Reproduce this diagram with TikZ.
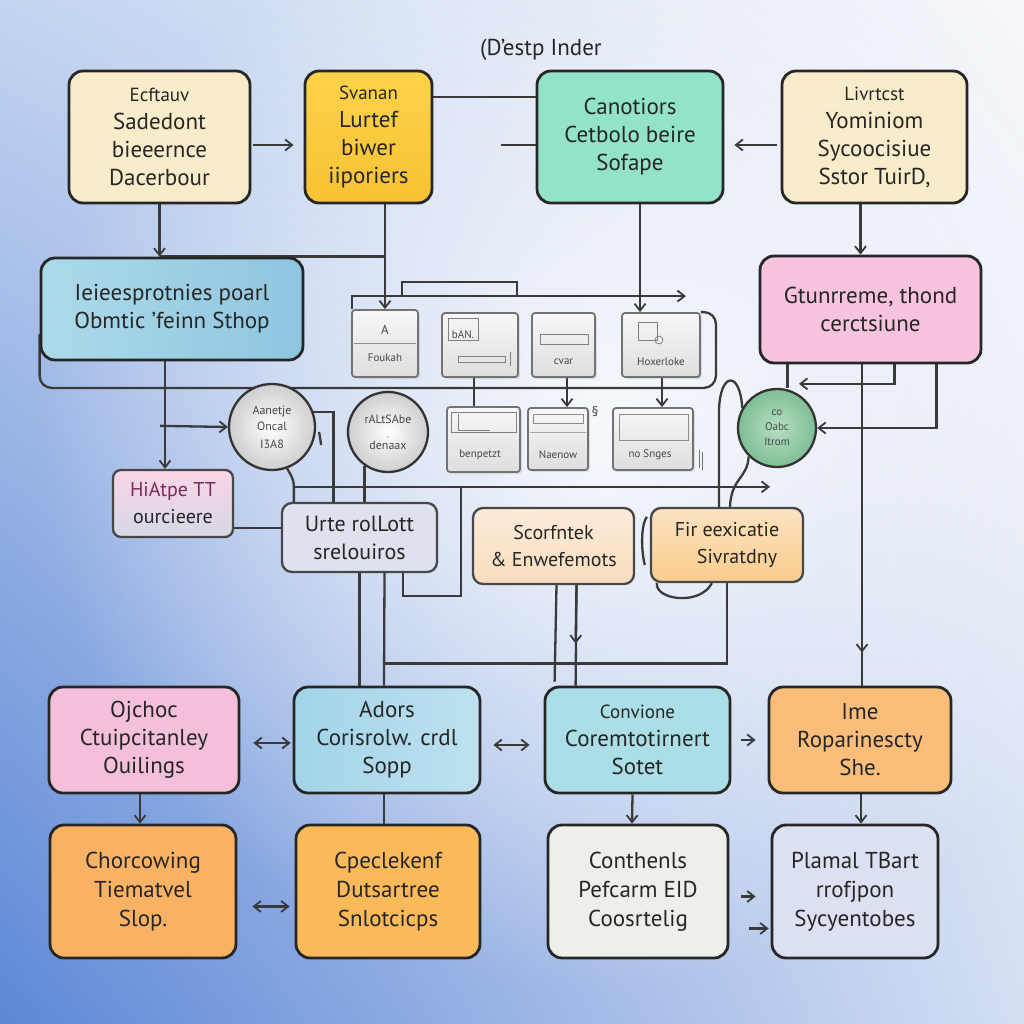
\documentclass[tikz,border=0pt]{standalone}
\usepackage{fontspec}
\setmainfont{PT Sans}
\usetikzlibrary{arrows.meta,calc,fadings,shadows,shadings}
\pgfdeclarelayer{bglay}
\pgfdeclarelayer{connlay}
\pgfsetlayers{bglay,connlay,main}
\definecolor{ln}{HTML}{3A3A3A}
\definecolor{tx}{HTML}{262626}
\definecolor{bgUL}{HTML}{C3D4F0}
\definecolor{bgUR}{HTML}{F6F7FA}
\definecolor{bgLL}{HTML}{5D87D6}
\definecolor{bgLR}{HTML}{D4DFF3}
\definecolor{cream}{HTML}{F8ECCB}
\definecolor{yelA}{HTML}{FCD24A}
\definecolor{yelB}{HTML}{F8C233}
\definecolor{mint}{HTML}{93E3C6}
\definecolor{blueA}{HTML}{ADDAEA}
\definecolor{blueB}{HTML}{8EC5DF}
\definecolor{pinkF}{HTML}{F7C3DD}
\definecolor{pinkK}{HTML}{F4BFD8}
\definecolor{lav}{HTML}{DEE2EF}
\definecolor{peachA}{HTML}{FCEBDA}
\definecolor{peachB}{HTML}{F8DDBE}
\definecolor{orgA}{HTML}{FCE3C2}
\definecolor{orgB}{HTML}{F9CC8C}
\definecolor{tealK}{HTML}{A2D4E8}
\definecolor{tealL}{HTML}{ABDEE6}
\definecolor{orgM}{HTML}{FBBE7A}
\definecolor{orgN}{HTML}{F9B264}
\definecolor{grayN}{HTML}{EDEFEA}
\definecolor{lavN}{HTML}{DCE0F3}
\definecolor{grnA}{HTML}{B7DEC3}
\definecolor{grnB}{HTML}{7FBE95}
\definecolor{pinkT}{HTML}{7A2A5A}
\tikzfading[name=softglow, inner color=transparent!0, outer color=transparent!100]
\tikzset{
  x=1pt, y=-1pt,
  box/.style={draw=black!85, line width=2.8pt, rounded corners=14pt, align=center,
    inner sep=0pt, text=tx, font=\fontsize{23}{28}\selectfont},
  sbox/.style={draw=black!72, line width=2.3pt, rounded corners=10pt, align=center,
    inner sep=0pt, text=tx, font=\fontsize{22}{28}\selectfont},
  gbox/.style={draw=black!55, line width=1.8pt, rounded corners=3pt, top color=gray!6,
    bottom color=gray!26, inner sep=0pt,
    drop shadow={opacity=0.2, shadow xshift=2pt, shadow yshift=-2pt}},
  gtxt/.style={text=black!72, font=\fontsize{11}{12}\selectfont, inner sep=0pt},
  circ/.style={circle, draw=black!80, line width=2.3pt, inner sep=0pt, align=center,
    text=black!72, font=\fontsize{12}{16}\selectfont},
  wire/.style={draw=ln, line width=2.3pt},
  arr/.style={wire, -{Straight Barb[length=7pt,width=11pt,line width=1.8pt]}},
  darr/.style={wire, {Straight Barb[length=7pt,width=11pt,line width=1.8pt]}-{Straight Barb[length=7pt,width=11pt,line width=1.8pt]}},
}
\newcommand{\sm}[1]{{\fontsize{19}{22}\selectfont #1}}
\begin{document}
\begin{tikzpicture}
\useasboundingbox (0,0) rectangle (1024,1024);
% background
\begin{pgfonlayer}{bglay}
\shade[upper left=bgUL, upper right=bgUR, lower left=bgLL, lower right=bgLR] (0,0) rectangle (1024,1024);
\fill[white, path fading=softglow, fill opacity=0.85] (600,430) circle (560);
\end{pgfonlayer}

% title
\node[text=black!85, font=\fontsize{23}{24}\selectfont] (title) at (541,50) {(D'estp Inder};

% top row
\node[box, fill=cream, minimum width=181pt, minimum height=132pt] (A) at (159.5,137)
  {\sm{Ecftauv}\\Sadedont\\bieeernce\\Dacerbour};
\node[box, top color=yelA, bottom color=yelB, minimum width=127pt, minimum height=132pt] (B) at (368.5,137)
  {\sm{Svanan}\\Lurtef\\biwer\\iiporiers};
\node[box, fill=mint, minimum width=186pt, minimum height=132pt] (C) at (630,137)
  {Canotiors\\Cetbolo beire\\Sofape};
\node[box, fill=cream, minimum width=185pt, minimum height=132pt] (D) at (874.5,137)
  {\sm{Livrtcst}\\Yominiom\\Sycoocisiue\\Sstor TuirD,};

% second row
\node[box, left color=blueA, right color=blueB, minimum width=262pt, minimum height=102pt] (E) at (172,309)
  {Ieieesprotnies poarl\\Obmtic 'feinn Sthop};
\node[box, fill=pinkF, minimum width=221pt, minimum height=107pt] (F) at (870.5,309.5)
  {Gtunrreme, thond\\cerctsiune};

% gray boxes
\node[gbox, minimum width=66pt, minimum height=67pt] (g1) at (385,343.5) {};
\node[gbox, minimum width=76pt, minimum height=64pt] (g2) at (480,345) {};
\node[gbox, minimum width=63pt, minimum height=64pt] (g3) at (563.5,345) {};
\node[gbox, minimum width=78pt, minimum height=64pt] (g4) at (661,345) {};
\node[gbox, minimum width=73pt, minimum height=65pt] (h1) at (483.5,439.5) {};
\node[gbox, minimum width=60pt, minimum height=62pt] (h2) at (558,439) {};
\node[gbox, minimum width=80pt, minimum height=62pt] (h3) at (653,439) {};
% gray box inner details
\draw[black!45, line width=0.8pt] ($(g1.west)+(3,0)$) -- ($(g1.east)+(-3,0)$);
\node[gtxt, font=\fontsize{13}{13}\selectfont] (g1i) at (385,330) {A};
\node[gtxt] (g1t) at (385,358) {Foukah};
\draw[black!50, line width=0.9pt] (448,318) rectangle (478,340);
\node[gtxt] (g2t) at (463,335) {bAN.};
\draw[black!50, line width=0.9pt] (458,356) rectangle (505,362);
\draw[black!50, line width=1pt] (510,352) -- (510,366);
\draw[black!50, line width=0.9pt] (540,334) rectangle (588,344);
\node[gtxt] (g3t) at (563.5,362) {cvar};
\draw[black!50, line width=0.9pt] (638,322) rectangle (657,340);
\draw[black!50, line width=0.8pt] (659,340) circle (4);
\node[gtxt] (g4t) at (661,362) {Hoxerloke};
\draw[black!50, line width=0.9pt] (451,412) rectangle (516,432);
\draw[black!50, line width=0.9pt] (458,414) -- (458,430) -- (490,430);
\node[gtxt] (h1t) at (480,455) {benpetzt};
\draw[black!45, line width=0.9pt] (533,414) rectangle (583,423);
\draw[black!35, line width=0.6pt] (530,432) -- (586,432);
\node[gtxt] (h2t) at (558,455) {Naenow};
\draw[black!45, line width=0.9pt] (619,414) rectangle (688,440);
\node[gtxt] (h3t) at (650,455) {no Snges};
\draw[black!55, line width=1pt] (699,450) -- (699,468) (702,452) -- (702,470);
\node[text=black!70, font=\fontsize{14}{14}\selectfont] (sect) at (595,412) {§};

% circles
\node[circ, inner color=white, outer color=gray!38, minimum size=86pt] (c1) at (272,427)
  {Aanetje\\Oncal\\[2pt]I3A8};
\node[circ, inner color=white, outer color=gray!38, minimum size=80pt] (c2) at (388,432)
  {rALtSAbe\\[-2pt]{\scriptsize ,}\\[-4pt]denaax};
\node[circ, inner color=grnA, outer color=grnB, minimum size=78pt, font=\fontsize{11}{15}\selectfont] (c3) at (777,428)
  {co\\Oabc\\Itrom};

% third-row small boxes
\node[sbox, top color=pinkF!70, bottom color=lav!90!gray, minimum width=120pt, minimum height=67pt, rounded corners=8pt,
  font=\fontsize{20}{27}\selectfont] (G) at (173,503.5)
  {\textcolor{pinkT}{HiAtpe TT}\\ourcieere};
\node[sbox, fill=lav, minimum width=155pt, minimum height=69pt] (H) at (359.5,537.5)
  {Urte rolLott\\srelouiros};
\node[sbox, top color=peachA, bottom color=peachB, minimum width=161pt, minimum height=76pt,
  font=\fontsize{20}{27}\selectfont] (I) at (553.5,546)
  {Scorfntek\\\& Enwefemots};
\node[sbox, top color=orgA, bottom color=orgB, minimum width=152pt, minimum height=74pt,
  font=\fontsize{20}{27}\selectfont] (J) at (727,545)
  {Fir eexicatie\\\hspace*{20pt}Sivratdny};

% lower rows
\node[box, fill=pinkK, minimum width=190pt, minimum height=106pt] (K1) at (144,740)
  {Ojchoc\\Ctuipcitanley\\Ouilings};
\node[box, left color=tealK, right color=tealK!70!white, minimum width=186pt, minimum height=106pt] (K2) at (387,740)
  {Adors\\Corisrolw. crdl\\Sopp};
\node[box, fill=tealL, minimum width=185pt, minimum height=106pt] (L) at (637.5,740)
  {\sm{Convione}\\Coremtotirnert\\Sotet};
\node[box, fill=orgM, minimum width=182pt, minimum height=106pt] (M) at (860,740)
  {Ime\\Roparinescty\\She.};
\node[box, fill=orgN, minimum width=186pt, minimum height=133pt, font=\fontsize{23}{29}\selectfont] (N1) at (143,891.5)
  {Chorcowing\\Tiematvel\\Slop.};
\node[box, fill=orgN!90!yellow, minimum width=184pt, minimum height=133pt, font=\fontsize{23}{29}\selectfont] (N2) at (388,891.5)
  {Cpeclekenf\\Dutsartree\\Snlotcicps};
\node[box, fill=grayN, minimum width=180pt, minimum height=133pt, font=\fontsize{23}{29}\selectfont] (N3) at (638,891.5)
  {Conthenls\\Pefcarm EID\\Coosrtelig};
\node[box, fill=lavN, minimum width=166pt, minimum height=133pt, font=\fontsize{23}{29}\selectfont] (N4) at (855,891.5)
  {Plamal TBart\\rrofjpon\\Sycyentobes};

% ---------- connectors ----------
\begin{pgfonlayer}{connlay}
% top row
\draw[arr] ($(A.east)+(2,8)$) -- ($(B.west)+(-10,8)$);
\draw[wire] ($(B.east)+(0,-40)$) -- ($(C.west)+(0,-40)$);
\draw[wire] ($(C.west)+(-35,8)$) -- ($(C.west)+(0,8)$);
\draw[arr] ($(D.west)+(-4,8)$) -- ($(C.east)+(10,8)$);
\draw[arr] (A.south) -- (A.south |- E.north);
\draw[wire] (A.south |- E.north) -- (E.north -| g1.north);
\draw[arr] (g1.north |- B.south) -- (g1.north);
\draw[arr] ($(C.south)+(10,0)$) -- ($(g4.north)+(-21,0)$);
\draw[arr] ($(D.south)+(-14,0)$) -- ($(F.north)+(-10,0)$);
% brackets over gray boxes
\draw[arr] ($(g1.north west)+(1,0)$) |- ($(g4.north east)+(-15,-16)$);
\draw[wire] ($(g1.north)+(17,-13)$) |- ($(g2.north)+(37,-30)$) -- ($(g2.north)+(37,-16)$);
% long line under first gray row
\draw[wire, rounded corners=12pt] ($(E.west)+(0,25)$) |- ($(g4.south east)+(15,10)$) -- ($(g4.north east)+(15,0)$) -- (g4.north east);
% gray row verticals
\draw[wire] ($(g2.south)+(-6,0)$) -- ($(h1.north)+(-9.5,0)$);
\draw[arr] ($(g3.south)+(3.5,0)$) -- ($(h2.north)+(9,0)$);
\draw[arr] ($(g4.south)+(1,0)$) -- ($(h3.north)+(9,0)$);
% E to G and c1
\draw[arr] ($(E.south)+(-7,0)$) -- ($(G.north)+(-8,0)$);
\draw[arr] ($(G.north)+(-13,-43)$) -- (c1.west);
\draw[wire] ($(G.south east)+(0,-10)$) coordinate (gq) -- (gq -| H.west);
% c1, c2 to H
\draw[wire] (c1.-70) to[out=-60,in=90] ($(H.north west)+(13,-15)$) -- ($(H.north west)+(13,0)$);
\draw[arr] ($(H.north west)+(13,-15)$) -- ($(J.north)+(43,-20)$);
\draw[wire] (c1.20) -| ($(H.north)+(-26,0)$);
\draw[wire] ($(c1.east)+(3,5)$) -- ($(c1.east)+(5,18)$);
\draw[wire] (c2.235) -- (c2.235 |- H.north);
\draw[wire] ($(H.north east)+(23,-15)$) |- ($(H.south east)+(-35,23)$) -- ($(H.south east)+(-35,0)$);
% H to K2
\draw[wire] (H.south) -- (H.south |- K2.north);
\draw[wire] ($(H.south)+(25,0)$) -- ($(K2.north)+(-3,0)$);
\draw[wire] ($(K2.north)+(-3,-22)$) -| (J.south);
% I to L
\draw[wire] ($(I.south)+(3,0)$) -- ($(L.north west)+(11,-4)$);
\draw[wire] ($(L.north west)+(5,-22)$) -- ($(L.north west)+(17,-22)$);
\draw[wire] ($(I.south)+(23,0)$) -- ($(L.north west)+(32,0)$);
\draw[arr] ($(I.south)+(23,0)$) -- ($(L.north west)+(32,-42)$);
% F connectors
\draw[wire] ($(F.south west)+(29,0)$) -- ($(F.south west)+(29,24)$);
\draw[arr] ($(F.south)+(24,0)$) |- ($(c3.north)+(22,-4)$);
\draw[wire] ($(F.south)+(-8.5,0)$) -- ($(M.north)+(2,0)$);
\draw[arr] ($(F.south)+(-8.5,0)$) -- ($(M.north)+(2,-33)$);
\draw[arr] ($(F.south east)+(-46,0)$) |- (c3.east);
% c3 curvy links to J
\draw[wire] (c3.150) .. controls (740,370) and (720,372) .. (719,410) -- ($(J.north)+(-8,0)$);
\draw[wire] (c3.225) .. controls (748,478) and (731,478) .. ($(J.north)+(3,0)$);
\draw[wire] ($(J.south west)+(7,0)$) .. controls (655,600) and (700,606) .. ($(J.south west)+(62,0)$);
\draw[wire] ($(J.north west)+(-3,10)$) .. controls ($(J.north west)+(-10,20)$) and ($(J.west)+(-8,10)$) .. ($(J.west)+(-5,20)$);
% lower rows
\draw[darr] ($(K1.east)+(13,3)$) -- ($(K2.west)+(-2,3)$);
\draw[darr] ($(K2.east)+(12,5)$) -- ($(L.west)+(-14,5)$);
\draw[arr] ($(L.east)+(10,0)$) -- ($(M.west)+(-12,0)$);
\draw[arr] ($(K1.south)+(-4,0)$) -- ($(N1.north)+(-3,0)$);
\draw[wire] ($(K2.south)+(-3,0)$) -- ($(N2.north)+(-4,0)$);
\draw[arr] ($(L.south)+(-5,0)$) -- ($(N3.north)+(-6,0)$);
\draw[arr] ($(M.south)+(1,0)$) -- ($(N4.north)+(6,0)$);
\draw[darr] ($(N1.east)+(15,15)$) -- ($(N2.west)+(-5,15)$);
\draw[arr] ($(N3.east)+(12,5)$) -- ($(N4.west)+(-15,5)$);
\draw[arr] ($(N3.east)+(20,37)$) -- ($(N4.west)+(-2,37)$);
\end{pgfonlayer}
\end{tikzpicture}
\end{document}
